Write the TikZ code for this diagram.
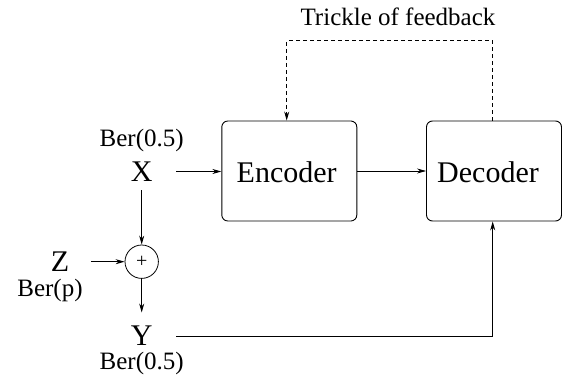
\documentclass[tikz,border=0pt]{standalone}
\usepackage{fontspec}
\setmainfont{Liberation Serif}
\usetikzlibrary{arrows.meta}
\begin{document}
\begin{tikzpicture}[x=1pt,y=1pt,
  big/.style={font=\fontsize{30}{34}\selectfont, inner sep=0pt},
  small/.style={font=\fontsize{25}{29}\selectfont, inner sep=0pt},
  blk/.style={draw, line width=0.9pt, rounded corners=6pt, minimum width=135pt, minimum height=100pt, inner sep=0pt},
  arr/.style={line width=0.8pt, -{Stealth[length=9pt,width=5pt]}},
  ln/.style={line width=0.8pt}]
\useasboundingbox (0,0) rectangle (562,-377);
% blocks
\node[blk] (enc) at (289.3,-171) {};
\node[blk] (dec) at (494,-171) {};
\node[big] (enct) at (286.7,-172) {Encoder};
\node[big] (dect) at (488,-172) {Decoder};
% title
\node[small] (trk) at (398,-17) {Trickle of feedback};
% sources
\node[small] (berx) at (141.7,-140) {Ber(0.5)};
\node[big] (X) at (141.7,-171.5) {X};
\node[draw, circle, line width=0.8pt, minimum size=33.4pt, inner sep=0pt, font=\fontsize{20}{22}\selectfont] (sum) at (141.7,-261.7) {+};
\node[big] (Z) at (60,-261.7) {Z};
\node[small] (berp) at (50,-290) {Ber(p)};
\node[big] (Y) at (141.7,-335.5) {Y};
\node[small] (bery) at (141.7,-363) {Ber(0.5)};
% coordinates
\coordinate (fbL) at (286.7,-40.7);
\coordinate (fbR) at (492.7,-40.7);
\coordinate (yc) at (492.7,-336.5);
% connectors
\draw[arr, shorten <=23.5pt] (X.east) -- (X.east -| enc.west);
\draw[arr] (enc.east) -- (enc.east -| dec.west);
\draw[arr, shorten <=8.7pt] (X.south) -- (sum.north);
\draw[arr, shorten <=21.5pt] (Z.east) -- (sum.west);
\draw[arr, shorten >=23pt] (sum.south) -- (Y.center);
\draw[arr, shorten <=23.5pt] (Y.east |- yc) -- (yc) -- (dec.south -| yc);
\draw[arr, dashed, dash pattern=on 4pt off 3pt] (dec.north -| fbR) -- (fbR) -- (fbL) -- (enc.north -| fbL);
\end{tikzpicture}
\end{document}
